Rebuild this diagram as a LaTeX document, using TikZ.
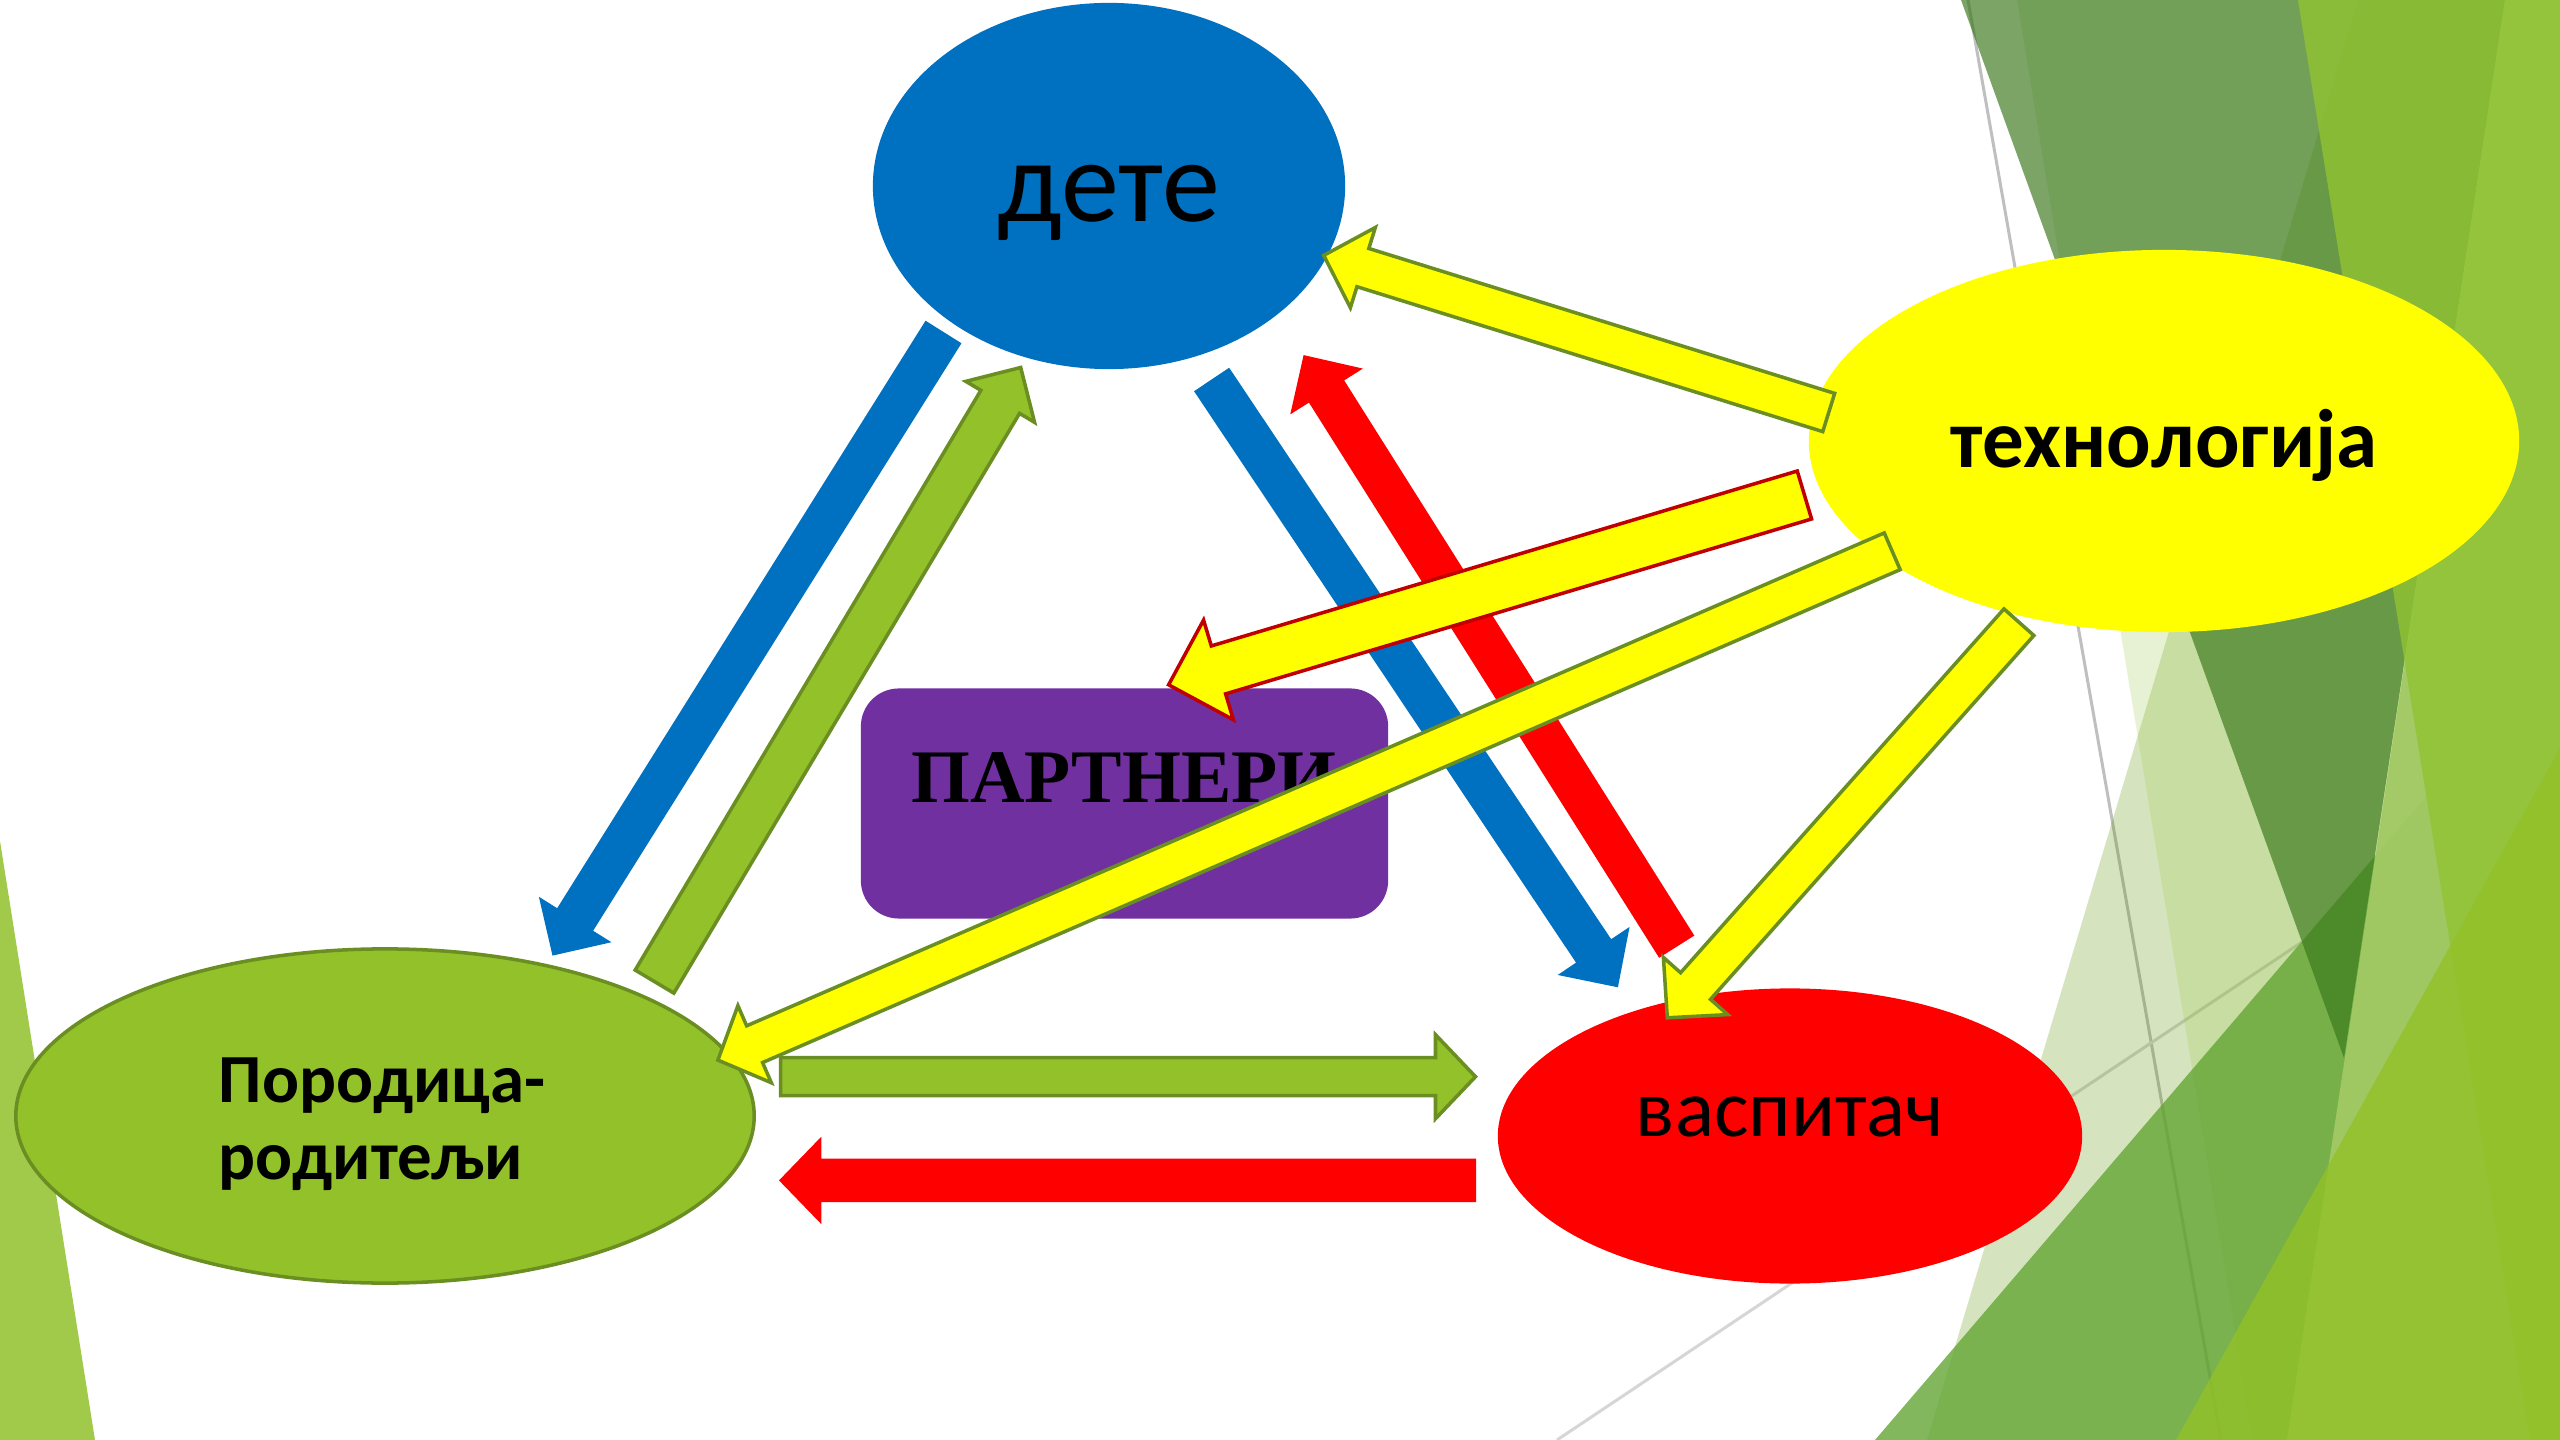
\documentclass[tikz,border=0pt]{standalone}
\usepackage{fontspec}
\setmainfont{Carlito}
\newfontfamily\serifbold{Liberation Serif}
\usetikzlibrary{calc,shapes.geometric}
\definecolor{cblue}{HTML}{0070C0}
\definecolor{cgreen}{HTML}{92C12A}
\definecolor{colive}{HTML}{6B8E23}
\definecolor{cred}{HTML}{FF0000}
\definecolor{cdred}{HTML}{C00000}
\definecolor{cyellow}{HTML}{FFFF00}
\definecolor{cpurple}{HTML}{7030A0}
\definecolor{cleft}{HTML}{A2CA4A}
\definecolor{bgT4}{RGB}{90,150,0}
\definecolor{bgT2}{RGB}{150,200,60}
\definecolor{bgT5}{RGB}{97,164,49}
\definecolor{bgA}{RGB}{56,119,25}
\definecolor{bgB}{RGB}{162,202,100}
\definecolor{bgT3}{RGB}{145,195,50}
\definecolor{bgT6}{RGB}{146,193,39}
\tikzset{
  ellnode/.style={ellipse, inner sep=0pt, draw=none},
  lbl/.style={inner sep=0pt, anchor=base, text=black},
  bluearr/.style={fill=cblue},
  redarr/.style={fill=cred},
  greenarr/.style={fill=cgreen, draw=colive, line width=1pt},
  yelarr/.style={fill=cyellow, draw=colive, line width=1pt},
  yelredarr/.style={fill=cyellow, draw=cdred, line width=1pt},
}
% #1 style, #2 tail, #3 tip, #4 half shaft width, #5 half head width, #6 head length
\newcommand{\myblockarrow}[6]{%
  \coordinate (ba-b) at ($(#3)!#6!(#2)$);
  \path[#1] ($(#2)!#4!90:(#3)$) -- ($(ba-b)!#4!90:(#3)$) -- ($(ba-b)!#5!90:(#3)$) -- (#3)
    -- ($(ba-b)!#5!-90:(#3)$) -- ($(ba-b)!#4!-90:(#3)$) -- ($(#2)!#4!-90:(#3)$) -- cycle;}
\begin{document}
\begin{tikzpicture}[x=0.01cm,y=-0.01cm]
\useasboundingbox (0,0) rectangle (2560,1440);
\fill[white] (0,0) rectangle (2560,1440);
% ---------- background facets ----------
\draw[color=black!25, line width=0.85pt] (1968,0) -- (2221,1440);
\draw[color=black!16, line width=0.85pt] (1557,1440) -- (2302,942);
\fill[bgT4, fill opacity=0.25] (2358,0) -- (2560,0) -- (2560,1440) -- (1927,1440) -- cycle;
\fill[bgT2, fill opacity=0.22] (2017,0) -- (2560,0) -- (2560,1440) -- (2253,1440) -- cycle;
\fill[bgT5, fill opacity=0.78] (1875,1440) -- (2560,640) -- (2560,1440) -- cycle;
\fill[bgA, fill opacity=0.664] (1961,0) -- (2505,0) -- (2344,1058) -- cycle;
\fill[bgB, fill opacity=0.95] (2505,0) -- (2560,0) -- (2560,1440) -- (2287,1440) -- cycle;
\fill[bgT3, fill opacity=0.8] (2298,0) -- (2560,0) -- (2560,1440) -- (2530,1440) -- cycle;
\fill[bgT6, fill opacity=0.8] (2176,1440) -- (2560,748) -- (2560,1440) -- cycle;
\fill[cleft] (0,841) -- (95,1440) -- (0,1440) -- cycle;
% ---------- main nodes ----------
\node[ellnode, fill=cblue, minimum width=4.72cm, minimum height=3.66cm] (dete) at (1109,186) {};
\node[ellnode, fill=cyellow, minimum width=7.10cm, minimum height=3.82cm] (tech) at (2164,441) {};
\node[ellnode, fill=cgreen, draw=colive, line width=1pt, minimum width=7.38cm, minimum height=3.34cm] (fam) at (385,1116) {};
\node[ellnode, fill=cred, minimum width=5.84cm, minimum height=2.95cm] (vasp) at (1790,1136) {};
\node[rectangle, rounded corners=0.38cm, fill=cpurple, inner sep=0pt, minimum width=5.27cm, minimum height=2.30cm] (part) at (1124.5,803.5) {};
% ---------- texts ----------
\node[lbl] (detetxt) at (1109,222) {\fontsize{33}{40}\selectfont дете};
\node[lbl] (techtxt) at (2164,468) {\fontsize{23.6}{28}\selectfont\bfseries технологија};
\node[lbl, anchor=base west] (famtxt1) at (218,1102) {\fontsize{19.6}{24}\selectfont\bfseries Породица-};
\node[lbl, anchor=base west] (famtxt2) at (218,1179) {\fontsize{19.6}{24}\selectfont\bfseries родитељи};
\node[lbl] (vasptxt) at (1790,1136) {\fontsize{23.2}{28}\selectfont васпитач};
\node[lbl] (parttxt) at (1124,803) {\fontsize{21.5}{26}\selectfont\serifbold\bfseries ПАРТНЕРИ};
% ---------- arrow end points ----------
\coordinate (ba1t) at (943.5,332);   \coordinate (ba1h) at (552.5,955.6);
\coordinate (ga1t) at (654.5,981.6); \coordinate (ga1h) at (1020.7,367.5);
\coordinate (ba2t) at (1211.6,379.5);\coordinate (ba2h) at (1617.9,987.3);
\coordinate (ra1t) at (1676.7,946.7);\coordinate (ra1h) at (1303.6,355.1);
\coordinate (ght) at (780.6,1076.7); \coordinate (ghh) at (1475.5,1076.7);
\coordinate (rht) at (1476,1180.4);  \coordinate (rhh) at (779,1180.4);
\coordinate (y1t) at (1828.7,412.5); \coordinate (y1h) at (1323.7,255.4);
\coordinate (y2t) at (1804.4,495);   \coordinate (y2h) at (1168.6,684.8);
\coordinate (y3t) at (1892.2,551.3); \coordinate (y3h) at (717.9,1060.1);
\coordinate (y4t) at (2018.9,622.2); \coordinate (y4h) at (1667.3,1017.8);
% ---------- arrows ----------
\myblockarrow{bluearr}{ba1t}{ba1h}{0.212cm}{0.428cm}{0.426cm}
\myblockarrow{greenarr}{ga1t}{ga1h}{0.225cm}{0.40cm}{0.40cm}
\myblockarrow{bluearr}{ba2t}{ba2h}{0.211cm}{0.432cm}{0.437cm}
\myblockarrow{redarr}{ra1t}{ra1h}{0.208cm}{0.429cm}{0.43cm}
\myblockarrow{greenarr}{ght}{ghh}{0.19cm}{0.42cm}{0.40cm}
\myblockarrow{redarr}{rht}{rhh}{0.217cm}{0.438cm}{0.424cm}
\myblockarrow{yelarr}{y1t}{y1h}{0.20cm}{0.42cm}{0.41cm}
\myblockarrow{yelredarr}{y2t}{y2h}{0.25cm}{0.52cm}{0.52cm}
\myblockarrow{yelarr}{y3t}{y3h}{0.20cm}{0.42cm}{0.40cm}
\myblockarrow{yelarr}{y4t}{y4h}{0.20cm}{0.43cm}{0.425cm}
\end{tikzpicture}
\end{document}
